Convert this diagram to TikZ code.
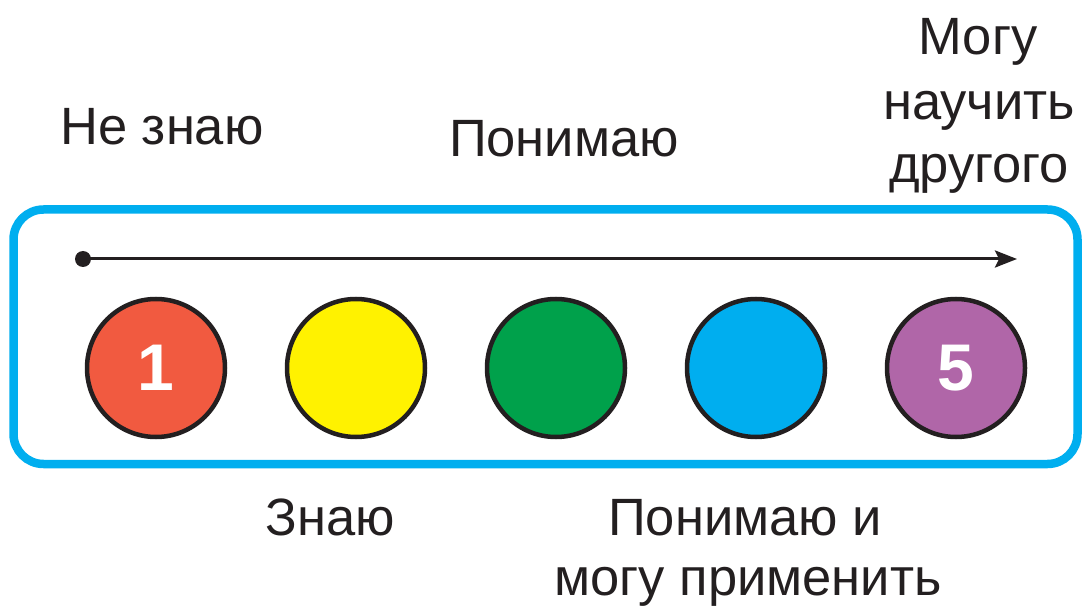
\documentclass[tikz,border=0pt]{standalone}
\usepackage{fontspec}
\setmainfont{Liberation Sans}
\usetikzlibrary{arrows.meta}
\definecolor{ink}{HTML}{231F20}
\definecolor{frame}{HTML}{00AEEF}
\definecolor{cred}{HTML}{F15A40}
\definecolor{cyellow}{HTML}{FFF200}
\definecolor{cgreen}{HTML}{00A14B}
\definecolor{cblue}{HTML}{00AEEF}
\definecolor{cpurple}{HTML}{B066A8}
\tikzset{
  level/.style={circle, draw=ink, line width=4.5pt, minimum size=138pt, inner sep=0pt,
    text=white, font=\fontsize{66}{66}\selectfont\bfseries},
  lbl/.style={anchor=base, inner sep=0pt, text=ink, font=\fontsize{52.5}{62}\selectfont, align=center},
  axis/.style={draw=ink, line width=3pt, -{Stealth[length=22pt,width=17pt,inset=4pt]}},
}
\begin{document}
\begin{tikzpicture}[x=1pt,y=-1pt]
\useasboundingbox (0,0) rectangle (1084,609);
\draw[frame, line width=8.5pt, rounded corners=30pt] (13.5,209.5) rectangle (1077.5,464);
\node[circle, fill=ink, minimum size=16pt, inner sep=0pt] (start) at (83,259) {};
\coordinate (end) at (1017,259);
\draw[axis] (start.center) -- (end);
\node[level, fill=cred] (c1) at (156,368) {1};
\node[level, fill=cyellow] (c2) at (356,368) {};
\node[level, fill=cgreen] (c3) at (556,368) {};
\node[level, fill=cblue] (c4) at (756,368) {};
\node[level, fill=cpurple] (c5) at (956,368) {5};
\node[lbl] (t1) at (162,145) {Не знаю};
\node[lbl] (t3) at (564,157) {Понимаю};
\node[lbl] (t5a) at (978,55) {Могу};
\node[lbl] (t5b) at (979,120) {научить};
\node[lbl] (t5c) at (979,183) {другого};
\node[lbl] (t2) at (330,535) {Знаю};
\node[lbl] (t4a) at (745,535) {Понимаю и};
\node[lbl] (t4b) at (748,595) {могу применить};
\end{tikzpicture}
\end{document}
